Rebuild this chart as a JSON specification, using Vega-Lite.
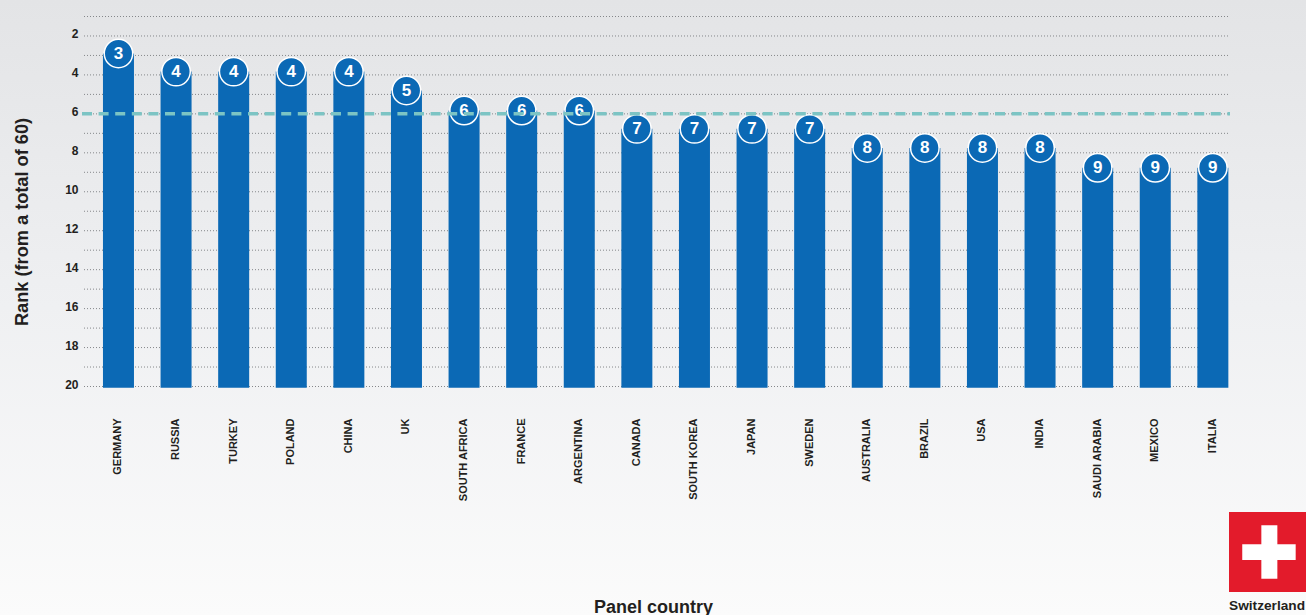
{
"$schema":"https://vega.github.io/schema/vega-lite/v6.json",
"width":1306,"height":615,"autosize":"none","padding":0,
"background":"#f4f5f6",
"view":{"stroke":null,"fill":{"gradient":"linear","x1":0,"y1":0,"x2":0,"y2":1,"stops":[{"offset":0,"color":"#e3e4e6"},{"offset":0.5,"color":"#eff0f2"},{"offset":1,"color":"#fbfbfb"}]}},
"config":{"font":"Liberation Sans","text":{"font":"Liberation Sans"}},
"datasets":{
"panel":[
{"country":"GERMANY","rank":3,"reading":2.9},
{"country":"RUSSIA","rank":4,"reading":3.83},
{"country":"TURKEY","rank":4,"reading":3.83},
{"country":"POLAND","rank":4,"reading":3.83},
{"country":"CHINA","rank":4,"reading":3.83},
{"country":"UK","rank":5,"reading":4.8},
{"country":"SOUTH AFRICA","rank":6,"reading":5.83},
{"country":"FRANCE","rank":6,"reading":5.83},
{"country":"ARGENTINA","rank":6,"reading":5.83},
{"country":"CANADA","rank":7,"reading":6.77},
{"country":"SOUTH KOREA","rank":7,"reading":6.77},
{"country":"JAPAN","rank":7,"reading":6.77},
{"country":"SWEDEN","rank":7,"reading":6.77},
{"country":"AUSTRALIA","rank":8,"reading":7.75},
{"country":"BRAZIL","rank":8,"reading":7.75},
{"country":"USA","rank":8,"reading":7.75},
{"country":"INDIA","rank":8,"reading":7.75},
{"country":"SAUDI ARABIA","rank":9,"reading":8.77},
{"country":"MEXICO","rank":9,"reading":8.77},
{"country":"ITALIA","rank":9,"reading":8.77}
],
"gridRanks":[{"g":1},{"g":2},{"g":3},{"g":4},{"g":5},{"g":6},{"g":7},{"g":8},{"g":9},{"g":10},{"g":11},{"g":12},{"g":13},{"g":14},{"g":15},{"g":16},{"g":17},{"g":18},{"g":19},{"g":20}],
"reference":[{"level":6}],
"badge":[{"name":"Switzerland"}],
"flag":[
{"part":"field","a":0,"b":1,"c":0,"d":1},
{"part":"cross","a":0.172,"b":0.866,"c":0.404,"d":0.6},
{"part":"cross","a":0.42,"b":0.628,"c":0.167,"d":0.834}
]
},
"data":{"name":"panel"},
"resolve":{"scale":{"x":"independent","y":"independent"},"axis":{"x":"independent","y":"independent"}},
"layer":[
{
"data":{"name":"gridRanks"},
"mark":{"type":"rule","stroke":"#85878a","strokeWidth":1,"strokeDash":[1,2]},
"encoding":{
"y":{"field":"g","type":"quantitative","scale":{"domain":[1,20],"range":[16.5,386.5],"nice":false,"zero":false},"axis":null},
"x":{"datum":0,"type":"quantitative","scale":{"domain":[0,1],"range":[84,1230]},"axis":null},
"x2":{"datum":1}
}
},
{
"encoding":{
"x":{"field":"country","type":"nominal","sort":null,
"scale":{"range":[84,1230],"paddingInner":0.4618,"paddingOuter":0.179,"align":0.92},
"axis":{"title":"Panel country","orient":"bottom","offset":-197,"labelAngle":270,"labelPadding":0,"labelFont":"Liberation Sans","labelFontWeight":"bold","labelFontSize":11,"labelColor":"#231f20","ticks":false,"domain":false,"grid":false,"labelOverlap":false,"titleFont":"Liberation Sans","titleFontWeight":"bold","titleFontSize":18,"titleColor":"#231f20","titleX":653,"titleY":194,"titleBaseline":"alphabetic"}},
"y":{"field":"reading","type":"quantitative",
"scale":{"domain":[1,20],"range":[16.5,386.5],"nice":false,"zero":false},
"axis":{"title":"Rank (from a total of 60)","orient":"left","offset":-84,"values":[2,4,6,8,10,12,14,16,18,20],"labelPadding":6,"labelOffset":-2,"labelFont":"Liberation Sans","labelFontWeight":"bold","labelFontSize":12,"labelColor":"#231f20","ticks":false,"domain":false,"grid":false,"titleFont":"Liberation Sans","titleFontWeight":"bold","titleFontSize":18.2,"titleColor":"#231f20","titleX":-53,"titleY":221.5,"titleAngle":270}}
},
"layer":[
{"mark":{"type":"bar","fill":"#0b69b5"},"encoding":{"y2":{"datum":20.07}}},
{"mark":{"type":"point","shape":"circle","filled":true,"fill":"#0b69b5","stroke":"#ffffff","strokeWidth":1.5,"opacity":1,"size":810}},
{"mark":{"type":"text","color":"#ffffff","font":"Liberation Sans","fontWeight":"bold","fontSize":17,"baseline":"middle","align":"center"},"encoding":{"text":{"field":"rank","type":"quantitative"}}}
]
},
{
"data":{"name":"reference"},
"mark":{"type":"rule","stroke":"#7cc4c4","strokeWidth":3.5,"strokeDash":[10,6.6]},
"encoding":{
"y":{"field":"level","type":"quantitative","scale":{"domain":[1,20],"range":[16.5,386.5],"nice":false,"zero":false},"axis":null},
"x":{"datum":0,"type":"quantitative","scale":{"domain":[0,1],"range":[82,1230]},"axis":null},
"x2":{"datum":1}
}
},
{
"data":{"name":"flag"},
"mark":{"type":"rect"},
"encoding":{
"x":{"field":"a","type":"quantitative","scale":{"domain":[0,1],"range":[1229,1306]},"axis":null},
"x2":{"field":"b"},
"y":{"field":"c","type":"quantitative","scale":{"domain":[0,1],"range":[512,592]},"axis":null},
"y2":{"field":"d"},
"color":{"field":"part","type":"nominal","scale":{"domain":["field","cross"],"range":["#e31b2b","#ffffff"]},"legend":null}
}
},
{
"data":{"name":"badge"},
"mark":{"type":"text","font":"Liberation Sans","fontWeight":"bold","fontSize":13.7,"color":"#231f20","align":"left","baseline":"alphabetic"},
"encoding":{
"text":{"field":"name","type":"nominal"},
"x":{"datum":0,"type":"quantitative","scale":{"domain":[0,1],"range":[1229,1306]},"axis":null},
"y":{"datum":1.23,"type":"quantitative","scale":{"domain":[0,1],"range":[512,592]},"axis":null}
}
}
]
}
